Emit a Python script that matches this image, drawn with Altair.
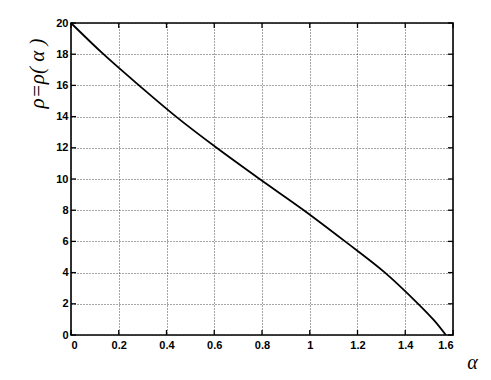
import altair as alt
import pandas as pd

# curve
alpha = [0.0, 0.136, 0.285, 0.44, 0.61, 0.79, 0.975, 1.148, 1.315, 1.454, 1.52, 1.57]
rho = [20.0, 18.0, 16.0, 14.0, 12.0, 10.0, 8.0, 6.0, 4.0, 2.0, 0.95, 0.0]

x_ticks = [0, 0.2, 0.4, 0.6, 0.8, 1.0, 1.2, 1.4, 1.6]
y_ticks = [0, 2, 4, 6, 8, 10, 12, 14, 16, 18, 20]

W, H = 382, 312
TL = 5  # inward tick length

curve = pd.DataFrame({"alpha": alpha, "rho": rho})
xt = pd.DataFrame({"alpha": x_ticks})
yt = pd.DataFrame({"rho": y_ticks})

xscale = alt.Scale(domain=[0, 1.6], nice=False, zero=False)
yscale = alt.Scale(domain=[0, 20], nice=False, zero=False)

xaxis = alt.Axis(values=x_ticks, format="~g", title="α", titleX=401, titleY=27,
                 titleAlign="center", titleBaseline="middle", titleFont="Liberation Serif",
                 titleFontStyle="italic", titleFontWeight="normal", titleFontSize=20,
                 labelPadding=4)
yaxis = alt.Axis(values=y_ticks, format="d", title="ρ=ρ( α )", titleAngle=270,
                 titleX=-34, titleY=50, titleAlign="center", titleBaseline="middle",
                 titleFont="Liberation Serif", titleFontStyle="italic",
                 titleFontWeight="normal", titleFontSize=21, labelPadding=3)

X = alt.X("alpha:Q", scale=xscale, axis=xaxis)
Y = alt.Y("rho:Q", scale=yscale, axis=yaxis)

line = alt.Chart(curve).mark_line(color="black", strokeWidth=1.8, interpolate="catmull-rom").encode(x=X, y=Y)

xb = alt.Chart(xt).mark_rule(color="black", strokeWidth=1.3).encode(
    x=X, y=alt.value(H), y2=alt.value(H - TL))
xtp = alt.Chart(xt).mark_rule(color="black", strokeWidth=1.3).encode(
    x=X, y=alt.value(0), y2=alt.value(TL))
yl = alt.Chart(yt).mark_rule(color="black", strokeWidth=1.3).encode(
    y=Y, x=alt.value(0), x2=alt.value(TL))
yr = alt.Chart(yt).mark_rule(color="black", strokeWidth=1.3).encode(
    y=Y, x=alt.value(W), x2=alt.value(W - TL))

chart = alt.layer(line, xb, xtp, yl, yr).properties(
    width=W, height=H,
    autosize=alt.AutoSizeParams(type="none"),
    padding={"left": 63, "top": 15, "right": 30, "bottom": 37},
).configure_view(
    stroke="black", strokeWidth=1.6
).configure_axis(
    grid=True, gridColor="#222", gridOpacity=0.8, gridDash=[1, 2], gridWidth=1,
    domain=False, ticks=False,
    labelFont="Liberation Sans", labelFontWeight="bold", labelFontSize=11,
    labelColor="black", titleColor="black"
)

chart.save("out.html", embed_options={"renderer": "svg", "actions": False})
